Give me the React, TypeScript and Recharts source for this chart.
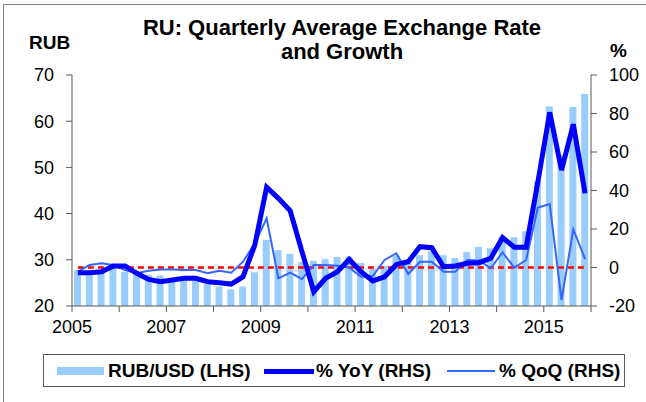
import React from "react";
import {
  Bar,
  ComposedChart,
  Line,
  ReferenceLine,
  XAxis,
  YAxis,
} from "recharts";

const FONT = '"Liberation Sans", Arial, sans-serif';
const AXIS = "#595959";

// quarterly values, 2005Q1 .. 2015Q4
const rubUsd = [
  27.8, 27.3, 27.4, 28.4,
  27.4, 27.1, 26.7, 26.6,
  26.0, 26.0, 25.5, 24.7,
  24.2, 23.6, 24.2, 27.3,
  34.3, 32.1, 31.3, 29.5,
  29.8, 30.2, 30.6, 30.7,
  29.3, 28.0, 28.7, 30.9,
  30.0, 31.0, 31.9, 31.0,
  30.4, 31.7, 32.8, 32.5,
  35.0, 34.9, 36.2, 47.0,
  63.2, 52.7, 63.1, 65.9,
];

const yoy = [
  -2.7, -2.7, -2.2, 0.8,
  0.8, -3.0, -6.2, -7.4,
  -6.5, -5.6, -5.6, -7.4,
  -7.9, -8.6, -4.8, 11.7,
  41.7, 35.9, 29.5, 8.2,
  -12.6, -5.6, -2.2, 4.2,
  -2.2, -7.0, -4.8, 1.6,
  3.0, 10.8, 10.3, 0.4,
  0.8, 2.2, 2.5, 4.8,
  15.5, 10.5, 10.5, 44.6,
  80.6, 50.6, 74.4, 38.5,
];

const qoq = [
  -2.2, 1.3, 2.2, 1.3,
  -1.3, -3.0, -1.7, -1.0,
  -1.0, -1.3, -1.3, -3.0,
  -1.7, -2.7, 3.0, 12.6,
  25.5, -5.6, -2.7, -6.0,
  1.3, 1.3, 0.9, 0.0,
  -4.8, -4.4, 3.9, 7.4,
  -3.4, 3.0, 3.0, -2.2,
  -2.2, 3.9, 3.6, -0.4,
  7.9, -0.1, 3.9, 31.1,
  33.0, -16.9, 19.8, 4.4,
];

const START_YEAR = 2005;
const yearTicks = [2005, 2006, 2007, 2008, 2009, 2010, 2011, 2012, 2013, 2014, 2015, 2016];
const labelledYears = [2005, 2007, 2009, 2011, 2013, 2015];
const leftTicks = [20, 30, 40, 50, 60, 70];
const rightTicks = [-20, 0, 20, 40, 60, 80, 100];

const data = rubUsd.map((v, i) => ({
  x: START_YEAR + (i + 0.5) / 4,
  rub: v,
  yoy: yoy[i],
  qoq: qoq[i],
}));

const tickStyle = { fontSize: 18, fill: "#000", fontFamily: FONT };

function LegendBox() {
  const text: React.CSSProperties = {
    position: "absolute",
    top: 5,
    fontSize: 19,
    fontWeight: "bold",
    lineHeight: "22px",
    whiteSpace: "nowrap",
  };
  return (
    <div
      style={{
        position: "absolute",
        left: 43,
        top: 354,
        width: 582,
        height: 33,
        border: "1px solid #595959",
        boxSizing: "border-box",
      }}
    >
      <div style={{ position: "absolute", left: 13, top: 12, width: 47, height: 8, background: "#99CCFF" }} />
      <div style={{ ...text, left: 64 }}>RUB/USD (LHS)</div>
      <div style={{ position: "absolute", left: 220, top: 14, width: 50, height: 5, background: "#0000FF" }} />
      <div style={{ ...text, left: 272 }}>% YoY (RHS)</div>
      <div style={{ position: "absolute", left: 403, top: 15, width: 48, height: 2, background: "#3366FF" }} />
      <div style={{ ...text, left: 455 }}>% QoQ (RHS)</div>
    </div>
  );
}

export default function App() {
  return (
    <div
      style={{
        position: "absolute",
        left: 0,
        top: 0,
        width: 646,
        height: 402,
        background: "#fff",
        fontFamily: FONT,
        color: "#000",
      }}
    >
      <div style={{ position: "absolute", left: 3, top: 4, width: 643, height: 398, borderLeft: "1px solid #808080", borderTop: "1px solid #808080" }} />
      <div
        style={{
          position: "absolute",
          left: 142,
          top: 16,
          width: 400,
          textAlign: "center",
          fontSize: 22,
          fontWeight: "bold",
          lineHeight: "24px",
        }}
      >
        RU: Quarterly Average Exchange Rate
        <br />
        and Growth
      </div>
      <div style={{ position: "absolute", left: 29, top: 32, fontSize: 19, fontWeight: "bold" }}>RUB</div>
      <div style={{ position: "absolute", left: 610, top: 40, fontSize: 19, fontWeight: "bold" }}>%</div>

      <ComposedChart
        width={646}
        height={402}
        data={data}
        margin={{ top: 75, right: 0, left: 0, bottom: 66 }}
        style={{ position: "absolute", left: 0, top: 0 }}
      >
        <XAxis
          dataKey="x"
          type="number"
          domain={[yearTicks[0], yearTicks[yearTicks.length - 1]]}
          ticks={yearTicks}
          tickFormatter={(v) => (labelledYears.includes(v) ? String(v) : "")}
          interval={0}
          height={30}
          tickSize={6}
          tickMargin={8}
          stroke={AXIS}
          tick={tickStyle}
        />
        <YAxis
          yAxisId="left"
          domain={[20, 70]}
          ticks={leftTicks}
          width={72}
          tickSize={6}
          tickMargin={12}
          stroke={AXIS}
          tick={tickStyle}
          allowDataOverflow
        />
        <YAxis
          yAxisId="right"
          orientation="right"
          domain={[-20, 100]}
          ticks={rightTicks}
          width={55}
          tickSize={6}
          tickMargin={12}
          stroke={AXIS}
          tick={tickStyle}
          allowDataOverflow
        />
        <Bar
          yAxisId="left"
          dataKey="rub"
          fill="#99CCFF"
          barSize={7}
          isAnimationActive={false}
        />
        <ReferenceLine
          yAxisId="right"
          segment={[
            { x: data[0].x, y: 0 },
            { x: data[data.length - 1].x, y: 0 },
          ]}
          stroke="#FF0000"
          strokeWidth={2.5}
          strokeDasharray="6 4"
        />
        <Line
          yAxisId="right"
          dataKey="qoq"
          type="linear"
          stroke="#3366FF"
          strokeWidth={2}
          dot={false}
          isAnimationActive={false}
        />
        <Line
          yAxisId="right"
          dataKey="yoy"
          type="linear"
          stroke="#0000FF"
          strokeWidth={5}
          dot={false}
          isAnimationActive={false}
        />
      </ComposedChart>
      <LegendBox />
    </div>
  );
}
